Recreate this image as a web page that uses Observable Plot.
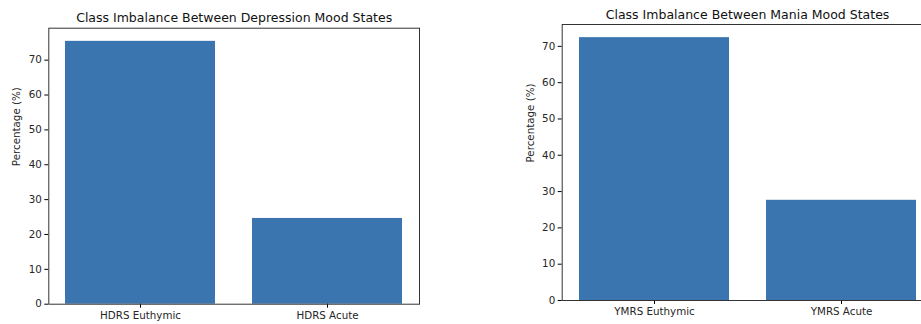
<!DOCTYPE html>
<html><head><meta charset="utf-8">
<script src="https://cdn.jsdelivr.net/npm/d3@7"></script>
<script src="https://cdn.jsdelivr.net/npm/@observablehq/plot@0.6"></script>
<style>
html,body{margin:0;padding:0;background:#fff;overflow:hidden;width:921px;height:324px;}
#wrap{position:relative;width:921px;height:324px;overflow:hidden;}
.panel{position:absolute;top:0;}
svg{font-family:"DejaVu Sans",sans-serif;overflow:visible;max-width:none !important;}
</style></head>
<body><div id="wrap"></div>
<script>
const depCategories = ["HDRS Euthymic", "HDRS Acute"];
const depValues = [75.4, 24.6];
const maniaCategories = ["YMRS Euthymic", "YMRS Acute"];
const maniaValues = [72.4, 27.6];
const yTicks = [0, 10, 20, 30, 40, 50, 60, 70];
const depTitle = "Class Imbalance Between Depression Mood States";
const maniaTitle = "Class Imbalance Between Mania Mood States";
const yLabel = "Percentage (%)";
const barColor = "#3a75af";

function panel(cats, vals, title, opts) {
  const data = cats.map((c, i) => ({cat: c, v: vals[i]}));
  const ymax = d3.max(vals) * 1.05;
  return Plot.plot({
    width: opts.width, height: 324,
    marginLeft: opts.ml, marginRight: opts.mr, marginTop: opts.mt, marginBottom: opts.mb,
    style: {fontFamily: "DejaVu Sans, sans-serif", fontSize: "10.3px", color: "#262626", background: "transparent", maxWidth: "none"},
    x: {domain: cats, paddingInner: 0.2, paddingOuter: 0.09, align: 0.5, label: null},
    y: {domain: [0, ymax], label: null},
    marks: [
      Plot.barY(data, {x: "cat", y: "v", fill: barColor, insetLeft: 0, insetRight: 0}),
      Plot.axisY({ticks: yTicks, tickSize: 4, tickPadding: 3, label: null, stroke: "#000", fontSize: 10.3}),
      Plot.axisX({tickSize: 4, tickPadding: 3, label: null, stroke: "#000", fontSize: 10.3}),
      Plot.frame({stroke: "#333", strokeWidth: 1}),
      Plot.text([title], {frameAnchor: "top", dy: opts.titleDy, fontSize: 12.5, fill: "#111", lineAnchor: "middle"}),
      Plot.text([yLabel], {frameAnchor: "left", dx: -opts.labelDx, rotate: -90, fontSize: 10.3, fill: "#262626", lineAnchor: "middle"})
    ]
  });
}

const wrap = document.getElementById("wrap");
const p1 = panel(depCategories, depValues, depTitle, {width: 460, ml: 48.3, mr: 41, mt: 27.7, mb: 20.3, titleDy: -10.7, labelDx: 31.6});
const d1 = document.createElement("div"); d1.className = "panel"; d1.style.left = "0px"; d1.appendChild(p1); wrap.appendChild(d1);
const p2 = panel(maniaCategories, maniaValues, maniaTitle, {width: 490, ml: 101.7, mr: 17.6, mt: 24, mb: 24, titleDy: -10, labelDx: 31.7});
const d2 = document.createElement("div"); d2.className = "panel"; d2.style.left = "460px"; d2.style.width = "490px"; d2.appendChild(p2); wrap.appendChild(d2);
</script></body></html>
